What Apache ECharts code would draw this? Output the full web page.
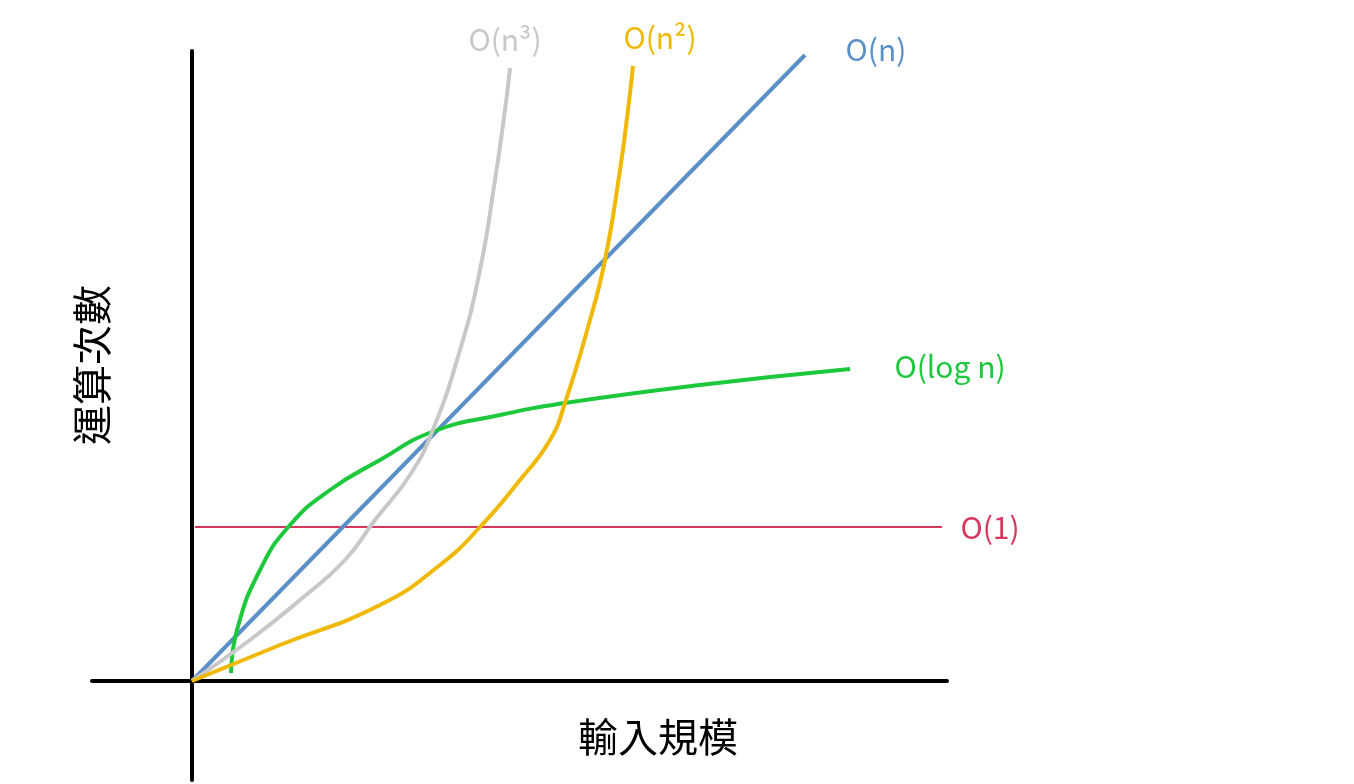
<!DOCTYPE html>
<html><head><meta charset="utf-8">
<script src="https://cdn.jsdelivr.net/npm/echarts@6/dist/echarts.min.js"></script>
<style>html,body{margin:0;background:#fff}#c{width:1354px;height:784px}</style>
</head><body><div id="c"></div>
<script>
const linearN = [[0,0],[613,626]];
const constant1 = [[3,154],[750,154]];
const logN = [[39,8],[45,51],[68,111],[98,156],[138,191],[188,221],[240,249],[308,266],[373,278],[508,296],[658,312]];
const cubeN = [[0,0],[58,41],[108,81],[153,121],[183,161],[218,206],[240,249],[268,331],[288,411],[303,501],[313,571],[318,613]];
const squareN = [[0,0],[88,36],[188,76],[248,116],[288,154],[328,201],[358,241],[373,278],[398,361],[413,421],[428,511],[436,571],[441,615]];
const labels = {n3:'O(n³)', n2:'O(n²)', n:'O(n)', log:'O(log n)', one:'O(1)', x:'輸入規模', y:'運算次數'};
const chart = echarts.init(document.getElementById('c'));
const font = '"Noto Sans CJK TC","Noto Sans",sans-serif';
function s(data,color,w,smooth){return {type:'line',data,smooth,showSymbol:false,symbol:'none',clip:false,lineStyle:{color,width:w},z:3};}
chart.setOption({
  animation:false,
  grid:{left:92,right:407,top:51,bottom:4},
  xAxis:{type:'value',min:-100,max:755,axisLine:{onZero:true,lineStyle:{color:'#000',width:4}},axisTick:{show:false},axisLabel:{show:false},splitLine:{show:false}},
  yAxis:{type:'value',min:-99,max:630,axisLine:{show:true,onZero:true,lineStyle:{color:'#000',width:4}},axisTick:{show:false},axisLabel:{show:false},splitLine:{show:false}},
  series:[
    s(constant1,'#d6375a',2,false),
    s(linearN,'#5b8fc7',4,false),
    s(logN,'#1ec83c',4,0.5),
    s(cubeN,'#c8c8c8',4,0.5),
    s(squareN,'#f0b800',4,0.5)
  ],
  graphic:[
    {type:'text',x:505,y:40,style:{text:labels.n3,fill:'#c8c8c8',font:'30px '+font,align:'center',verticalAlign:'middle'}},
    {type:'text',x:660,y:38,style:{text:labels.n2,fill:'#f0b800',font:'30px '+font,align:'center',verticalAlign:'middle'}},
    {type:'text',x:876,y:50,style:{text:labels.n,fill:'#5b8fc7',font:'30px '+font,align:'center',verticalAlign:'middle'}},
    {type:'text',x:950,y:367,style:{text:labels.log,fill:'#1ec83c',font:'30px '+font,align:'center',verticalAlign:'middle'}},
    {type:'text',x:990,y:528,style:{text:labels.one,fill:'#d6375a',font:'30px '+font,align:'center',verticalAlign:'middle'}},
    {type:'text',x:658,y:737,style:{text:labels.x,fill:'#000',font:'40px '+font,align:'center',verticalAlign:'middle'}},
    {type:'text',x:92,y:365,rotation:Math.PI/2,style:{text:labels.y,fill:'#000',font:'40px '+font,align:'center',verticalAlign:'middle'}}
  ]
});
</script></body></html>
